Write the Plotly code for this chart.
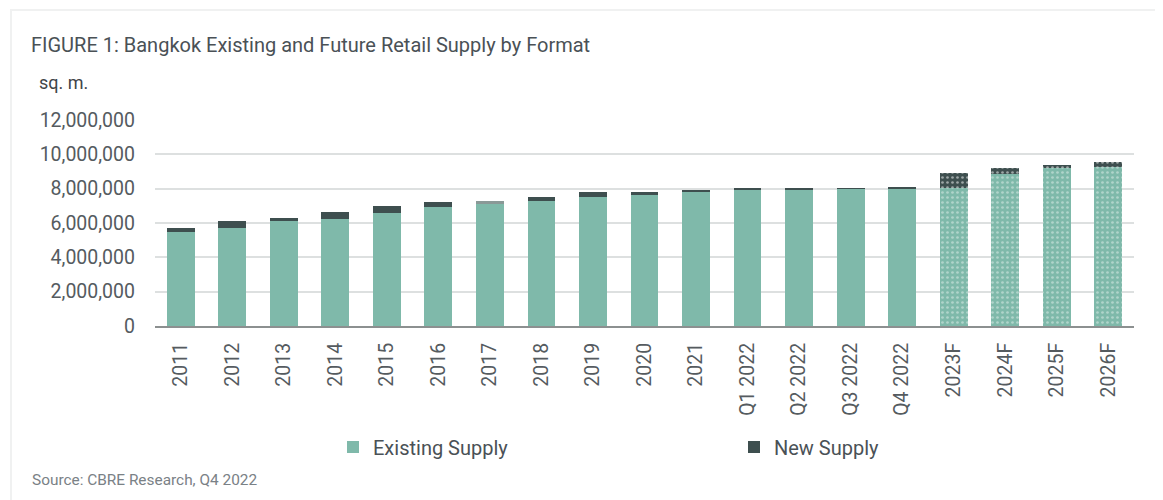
import plotly.graph_objects as go

categories = ["2011", "2012", "2013", "2014", "2015", "2016", "2017", "2018", "2019",
              "2020", "2021", "Q1 2022", "Q2 2022", "Q3 2022", "Q4 2022",
              "2023F", "2024F", "2025F", "2026F"]
existing_supply = [5470000, 5720000, 6130000, 6240000, 6570000, 6960000, 7130000, 7270000, 7500000,
                   7650000, 7850000, 7960000, 7980000, 8000000, 8010000,
                   8020000, 8830000, 9180000, 9280000]
new_supply = [230000, 420000, 190000, 390000, 430000, 250000, 160000, 270000, 310000,
              170000, 90000, 50000, 20000, 20000, 90000,
              880000, 350000, 170000, 250000]
forecast = [c.endswith("F") for c in categories]
y_ticks = [0, 2000000, 4000000, 6000000, 8000000, 10000000, 12000000]

GREEN = "#7fb9aa"
DARK = "#3e4f4f"
OFF = 8  # page body margin
W, H = 1163 - OFF, 500 - OFF
L, R, T, B = 155 - OFF, 29, 120 - OFF, 174
PW, PH = W - L - R, H - T - B


def px_x(p):
    return (p - OFF - L) / PW


def px_y(p):
    return (H - B - (p - OFF)) / PH


new_colors = ["#8a9997" if c == "2017" else DARK for c in categories]

fig = go.Figure()
fig.add_trace(go.Bar(
    x=categories, y=existing_supply, name="Existing Supply",
    marker=dict(color=GREEN, line=dict(width=0),
                pattern=dict(shape=["." if f else "" for f in forecast],
                             fillmode="overlay", fgcolor="#e4f0ec", size=5, solidity=0.22)),
))
fig.add_trace(go.Bar(
    x=categories, y=new_supply, name="New Supply",
    marker=dict(color=new_colors, line=dict(width=0),
                pattern=dict(shape=["." if f else "" for f in forecast],
                             fillmode="overlay", fgcolor="#a9bab6", size=5, solidity=0.22)),
))

fig.update_layout(
    width=W, height=H,
    barmode="stack", bargap=0.46,
    margin=dict(l=L, r=R, t=T, b=B, autoexpand=False),
    paper_bgcolor="white", plot_bgcolor="white",
    font=dict(family="Roboto", size=19, color="#555b5f"),
    showlegend=True,
    legend=dict(orientation="h", x=px_x(333), y=px_y(447), xanchor="left", yanchor="middle",
                entrywidth=356, entrywidthmode="pixels",
                font=dict(size=20, color="#4a5156"), traceorder="normal",
                itemclick=False),
)
fig.update_xaxes(
    type="category", tickangle=-90, showgrid=False, showline=True,
    linecolor="#8c9090", linewidth=2, ticks="outside", ticklen=7, tickcolor="rgba(0,0,0,0)",
    tickfont=dict(size=19.5, color="#555b5f"), fixedrange=True,
)
fig.update_yaxes(
    range=[0, 12000000], tickvals=y_ticks, tickformat=",d",
    showgrid=True, gridcolor="#dde0e0", gridwidth=1.5, zeroline=False,
    ticks="", ticklabelstandoff=19, showline=False,
    tickfont=dict(size=19.5, color="#555b5f"), fixedrange=True,
)

fig.add_annotation(text="FIGURE 1: Bangkok Existing and Future Retail Supply by Format",
                   xref="paper", yref="paper", x=px_x(29), y=px_y(45),
                   xanchor="left", yanchor="middle", showarrow=False,
                   font=dict(size=20, color="#4a5156"))
fig.add_annotation(text="sq. m.", xref="paper", yref="paper", x=px_x(37), y=px_y(82),
                   xanchor="left", yanchor="middle", showarrow=False,
                   font=dict(size=18, color="#3f4549"))
fig.add_annotation(text="Source: CBRE Research, Q4 2022", xref="paper", yref="paper",
                   x=px_x(30), y=px_y(480), xanchor="left", yanchor="middle", showarrow=False,
                   font=dict(size=15.4, color="#7a8186"))

# card border
fig.add_shape(type="line", xref="paper", yref="paper", x0=px_x(10), x1=px_x(1163),
              y0=px_y(10), y1=px_y(10), line=dict(color="#f0f1f1", width=2))
fig.add_shape(type="line", xref="paper", yref="paper", x0=px_x(11), x1=px_x(11),
              y0=px_y(10), y1=px_y(500), line=dict(color="#f0f1f1", width=2))

fig.write_html("out.html")
